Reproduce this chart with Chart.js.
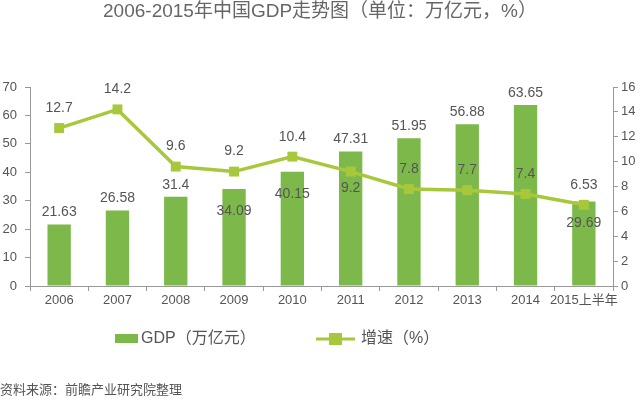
<!DOCTYPE html>
<html>
<head>
<meta charset="utf-8">
<script src="https://cdn.jsdelivr.net/npm/chart.js@4/dist/chart.umd.min.js"></script>
<style>
  html, body { margin: 0; padding: 0; background: #fff; }
</style>
</head>
<body>
<canvas id="myChart" width="640" height="399"></canvas>
<script>
const years = ["2006", "2007", "2008", "2009", "2010", "2011", "2012", "2013", "2014", "2015上半年"];
const gdp = [21.63, 26.58, 31.4, 34.09, 40.15, 47.31, 51.95, 56.88, 63.65, 29.69];
const growth = [12.7, 14.2, 9.6, 9.2, 10.4, 9.2, 7.8, 7.7, 7.4, 6.53];
// where each value label sits: "up" above the mark, "in" inside / below it
const gdpLabelPos = ["up", "up", "up", "in", "in", "up", "up", "up", "up", "in"];
const growthLabelPos = ["up", "up", "up", "up", "up", "in", "up", "up", "up", "up"];

const barColor = "#7cb94a";
const lineColor = "#a8c83c";
const textColor = "#555";
const fontFam = "'Liberation Sans', 'Noto Sans CJK SC', sans-serif";

const extras = {
  id: "extras",
  afterDatasetsDraw(chart) {
    const ctx = chart.ctx;
    ctx.save();
    ctx.font = "14px " + fontFam;
    ctx.fillStyle = textColor;
    ctx.textAlign = "center";
    ctx.textBaseline = "middle";
    chart.getDatasetMeta(0).data.forEach((bar, i) => {
      const y = gdpLabelPos[i] === "up" ? bar.y - 12 : bar.y + 22;
      ctx.fillText(String(gdp[i]), bar.x, y);
    });
    chart.getDatasetMeta(1).data.forEach((pt, i) => {
      const y = growthLabelPos[i] === "up" ? pt.y - 20 : pt.y + 17;
      ctx.fillText(String(growth[i]), pt.x, y);
    });

    // title
    ctx.font = "19px " + fontFam;
    ctx.fillStyle = "#666";
    ctx.fillText("2006-2015年中国GDP走势图（单位：万亿元，%）", 320, 12);

    // legend
    ctx.font = "16px " + fontFam;
    ctx.fillStyle = barColor;
    ctx.fillRect(115, 334, 23, 9);
    ctx.fillStyle = textColor;
    ctx.textAlign = "left";
    ctx.fillText("GDP（万亿元）", 141, 339);

    ctx.strokeStyle = lineColor;
    ctx.lineWidth = 3;
    ctx.beginPath();
    ctx.moveTo(316, 339);
    ctx.lineTo(355, 339);
    ctx.stroke();
    ctx.fillStyle = lineColor;
    ctx.fillRect(329, 333, 13, 12);
    ctx.fillStyle = textColor;
    ctx.fillText("增速（%）", 361, 339);

    // source
    ctx.font = "13px " + fontFam;
    ctx.fillText("资料来源：前瞻产业研究院整理", 0, 390);
    ctx.restore();
  }
};

const ctx = document.getElementById("myChart");
new Chart(ctx, {
  data: {
    labels: years,
    datasets: [{
      type: "bar",
      label: "GDP（万亿元）",
      data: gdp,
      backgroundColor: barColor,
      yAxisID: "y",
      barPercentage: 0.8,
      categoryPercentage: 0.5,
      order: 2
    }, {
      type: "line",
      label: "增速（%）",
      data: growth,
      borderColor: lineColor,
      backgroundColor: lineColor,
      borderWidth: 3.5,
      pointStyle: "rect",
      pointRadius: 7,
      pointBorderWidth: 0,
      yAxisID: "y1",
      order: 1
    }]
  },
  options: {
    responsive: false,
    animation: false,
    devicePixelRatio: 1,
    layout: { padding: { top: 87, left: 0, right: 0, bottom: 0 } },
    plugins: {
      legend: { display: false },
      title: { display: false },
      tooltip: { enabled: false }
    },
    scales: {
      x: {
        offset: true,
        grid: { offset: true, drawOnChartArea: false, tickLength: 5, color: "#999" },
        border: { color: "#999" },
        ticks: { color: textColor, font: { size: 13, family: fontFam }, padding: 2, maxRotation: 0, autoSkip: false },
        afterFit(axis) { axis.height = 113; }
      },
      y: {
        position: "left",
        min: 0, max: 70,
        ticks: { stepSize: 10, color: textColor, font: { size: 13, family: fontFam }, padding: 8 },
        grid: { drawOnChartArea: false, tickLength: 5, color: "#999" },
        border: { color: "#999" },
        afterFit(axis) { axis.width = 30; }
      },
      y1: {
        position: "right",
        min: 0, max: 16,
        ticks: { stepSize: 2, color: textColor, font: { size: 13, family: fontFam }, padding: 3 },
        grid: { drawOnChartArea: false, tickLength: 5, color: "#999" },
        border: { color: "#999" },
        afterFit(axis) { axis.width = 27; }
      }
    }
  },
  plugins: [extras]
});
</script>
</body>
</html>
